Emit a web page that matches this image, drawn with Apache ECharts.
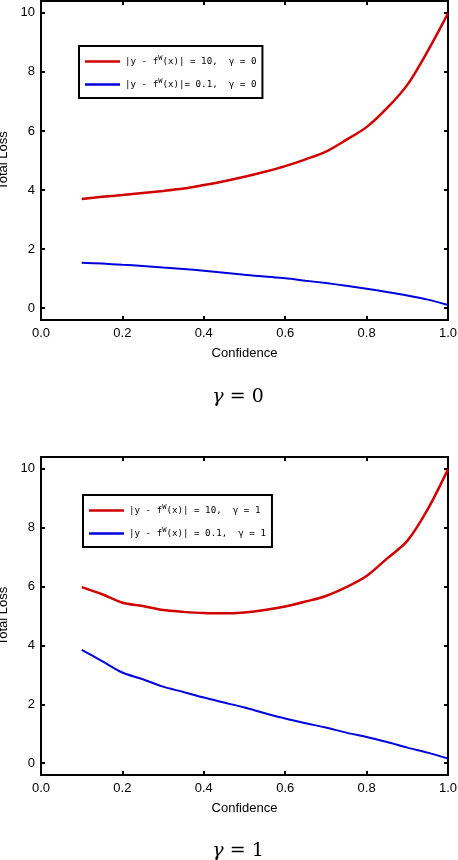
<!DOCTYPE html>
<html>
<head>
<meta charset="utf-8">
<script src="https://cdn.jsdelivr.net/npm/echarts@6/dist/echarts.min.js"></script>
<style>
  html, body { margin: 0; padding: 0; background: #fff; }
  #chart { width: 458px; height: 860px; }
</style>
</head>
<body>
<div id="chart"></div>
<script>
// confidence values (x)
var confidence = [0.1, 0.15, 0.2, 0.25, 0.3, 0.35, 0.4, 0.45, 0.5, 0.55,
                  0.6, 0.65, 0.7, 0.75, 0.8, 0.85, 0.9, 0.95, 1.0];

// gamma = 0
var loss10g0 = [3.70, 3.77, 3.83, 3.90, 3.97, 4.05, 4.17, 4.30, 4.45, 4.62,
                4.81, 5.04, 5.30, 5.70, 6.13, 6.77, 7.56, 8.70, 9.98];
var loss01g0 = [1.54, 1.51, 1.47, 1.43, 1.38, 1.33, 1.27, 1.20, 1.13, 1.07,
                1.01, 0.93, 0.85, 0.76, 0.66, 0.55, 0.43, 0.29, 0.11];

// gamma = 1
var loss10g1 = [5.98, 5.74, 5.45, 5.34, 5.20, 5.14, 5.10, 5.09, 5.12, 5.20,
                5.32, 5.49, 5.68, 5.98, 6.36, 6.95, 7.55, 8.62, 9.98];
var loss01g1 = [3.85, 3.47, 3.08, 2.85, 2.60, 2.42, 2.23, 2.06, 1.89, 1.70,
                1.52, 1.36, 1.21, 1.04, 0.89, 0.72, 0.53, 0.36, 0.16];

var yTicks = [0, 2, 4, 6, 8, 10];

function pairs(ys) {
    return confidence.map(function (x, i) { return [x, ys[i]]; });
}

var chart = echarts.init(document.getElementById('chart'));

var tickFont = {color: '#000', fontSize: 13, fontFamily: 'Liberation Sans'};
var tickLine = {color: '#000', width: 2};

// bottom/left axes carry labels, top/right ones only mirror the ticks
function xAxes(gi) {
    return [{
        type: 'value', gridIndex: gi, min: 0, max: 1, interval: 0.2,
        position: 'bottom',
        name: 'Confidence', nameLocation: 'middle', nameGap: 27,
        nameTextStyle: {color: '#000', fontSize: 13, fontFamily: 'Liberation Sans'},
        axisLine: {show: false, onZero: false},
        axisTick: {show: true, inside: true, length: 4, lineStyle: tickLine},
        axisLabel: Object.assign({margin: 7, formatter: function (v) { return v.toFixed(1); }}, tickFont),
        splitLine: {show: false}
    }, {
        type: 'value', gridIndex: gi, min: 0, max: 1, interval: 0.2,
        position: 'top',
        axisLine: {show: false, onZero: false},
        axisTick: {show: true, inside: true, length: 4, lineStyle: tickLine},
        axisLabel: {show: false},
        splitLine: {show: false}
    }];
}

function yAxes(gi) {
    return [{
        type: 'value', gridIndex: gi, min: -0.4, max: 10.4,
        position: 'left',
        name: 'Total Loss', nameLocation: 'middle', nameGap: 29, nameRotate: 90,
        nameTextStyle: {color: '#000', fontSize: 13, fontFamily: 'Liberation Sans'},
        axisLine: {show: false, onZero: false},
        axisTick: {show: true, inside: true, length: 4, customValues: yTicks, lineStyle: tickLine},
        axisLabel: Object.assign({margin: 6, customValues: yTicks}, tickFont),
        splitLine: {show: false}
    }, {
        type: 'value', gridIndex: gi, min: -0.4, max: 10.4,
        position: 'right',
        axisLine: {show: false, onZero: false},
        axisTick: {show: true, inside: true, length: 4, customValues: yTicks, lineStyle: tickLine},
        axisLabel: {show: false, customValues: yTicks},
        splitLine: {show: false}
    }];
}

var legendRich = {
    t: {fontFamily: 'DejaVu Sans Mono', fontSize: 9.2, color: '#000'},
    s: {fontFamily: 'DejaVu Sans Mono', fontSize: 7, color: '#000', verticalAlign: 'top', padding: [0, 0, 6, 0]}
};

function legendText(name) {
    var parts = name.split('^W');
    return '{t|' + parts[0] + '}{s|W}{t|' + parts[1] + '}';
}

function legendBox(names, left, top) {
    return {
        data: names, orient: 'vertical', left: left, top: top,
        icon: 'rect', itemWidth: 35, itemHeight: 2.5, itemGap: 12,
        itemStyle: {borderWidth: 0},
        padding: [9, 6, 9, 6], borderColor: '#000', borderWidth: 2, backgroundColor: '#fff',
        formatter: legendText, textStyle: {rich: legendRich}
    };
}

function caption(text, top) {
    return {
        text: '{g|γ} = ' + text, left: 233, top: top, textAlign: 'center',
        textStyle: {fontFamily: 'DejaVu Serif', fontSize: 19, fontWeight: 'normal', color: '#000',
                    rich: {g: {fontFamily: 'DejaVu Serif', fontStyle: 'italic', fontSize: 19, color: '#000'}}}
    };
}

var option = {
    animation: false,
    backgroundColor: '#fff',
    grid: [
        {left: 41, right: 10, top: 1, height: 319, outerBoundsMode: 'none',
         show: true, borderColor: '#000', borderWidth: 2},
        {left: 41, right: 10, top: 457, height: 318, outerBoundsMode: 'none',
         show: true, borderColor: '#000', borderWidth: 2}
    ],
    title: [caption('0', 383), caption('1', 837)],
    legend: [
        legendBox(['|y - f^W(x)| = 10,  γ = 0', '|y - f^W(x)|= 0.1,  γ = 0'], 79, 46),
        legendBox(['|y - f^W(x)| = 10,  γ = 1', '|y - f^W(x)| = 0.1,  γ = 1'], 83, 495)
    ],
    xAxis: xAxes(0).concat(xAxes(1)),
    yAxis: yAxes(0).concat(yAxes(1)),
    series: [
        {name: '|y - f^W(x)| = 10,  γ = 0', type: 'line', xAxisIndex: 0, yAxisIndex: 0,
         data: pairs(loss10g0), showSymbol: false, smooth: 0.3,
         lineStyle: {color: '#d00000', width: 2.5}, itemStyle: {color: '#d00000'}},
        {name: '|y - f^W(x)|= 0.1,  γ = 0', type: 'line', xAxisIndex: 0, yAxisIndex: 0,
         data: pairs(loss01g0), showSymbol: false, smooth: 0.3,
         lineStyle: {color: '#0000dd', width: 2}, itemStyle: {color: '#0000dd'}},
        {name: '|y - f^W(x)| = 10,  γ = 1', type: 'line', xAxisIndex: 2, yAxisIndex: 2,
         data: pairs(loss10g1), showSymbol: false, smooth: 0.3,
         lineStyle: {color: '#d00000', width: 2.5}, itemStyle: {color: '#d00000'}},
        {name: '|y - f^W(x)| = 0.1,  γ = 1', type: 'line', xAxisIndex: 2, yAxisIndex: 2,
         data: pairs(loss01g1), showSymbol: false, smooth: 0.3,
         lineStyle: {color: '#0000dd', width: 2}, itemStyle: {color: '#0000dd'}}
    ]
};

chart.setOption(option);
</script>
</body>
</html>
